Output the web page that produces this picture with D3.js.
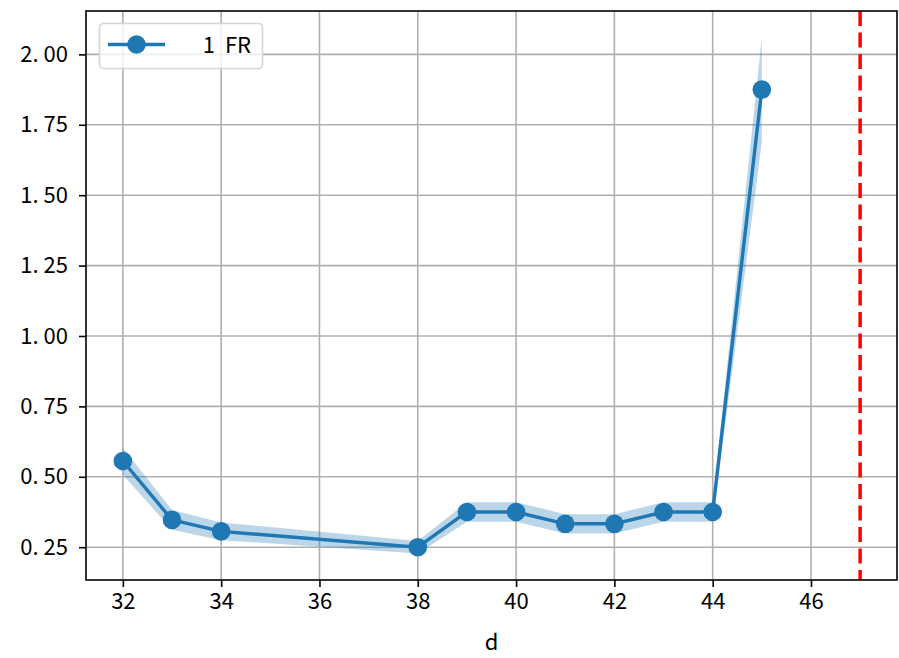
<!DOCTYPE html>
<html>
<head>
<meta charset="utf-8">
<script src="https://cdn.jsdelivr.net/npm/d3@7"></script>
<style>
  html, body { margin: 0; padding: 0; background: #fff; }
  svg { display: block; }
  text { font-family: "Noto Sans CJK JP", "Noto Sans", sans-serif; fill: #000; }
</style>
</head>
<body>
<svg id="chart" width="899" height="658"></svg>
<script>
// ---- data ----
const dValues = [32, 33, 34, 38, 39, 40, 41, 42, 43, 44, 45];
const frValues = [0.556, 0.347, 0.306, 0.25, 0.375, 0.375, 0.333, 0.333, 0.375, 0.375, 1.875];
const frLower = [0.507, 0.312, 0.275, 0.228, 0.340, 0.340, 0.299, 0.299, 0.340, 0.340, 1.69];
const frUpper = [0.603, 0.382, 0.338, 0.272, 0.410, 0.410, 0.367, 0.367, 0.410, 0.410, 2.06];
const xTicks = [32, 34, 36, 38, 40, 42, 44, 46];
const yTicks = [0.25, 0.50, 0.75, 1.00, 1.25, 1.50, 1.75, 2.00];
const thresholdD = 47;
const seriesLabel = "1 FR";
const xLabel = "d";

// ---- layout ----
const svg = d3.select("#chart");
const mL = 86, mR = 897, mT = 11, mB = 580;
const blue = "#1f77b4";
const fs = 22;

const x = d3.scaleLinear().domain([31.25, 47.75]).range([mL, mR]);
const y = d3.scaleLinear().domain([0.1335, 2.154]).range([mB, mT]);

// grid
const grid = svg.append("g");
grid.selectAll(".vg").data(xTicks).join("line")
  .attr("x1", d => x(d)).attr("x2", d => x(d))
  .attr("y1", mT).attr("y2", mB)
  .attr("stroke", "#b0b0b0").attr("stroke-width", 1.6);
grid.selectAll(".hg").data(yTicks).join("line")
  .attr("x1", mL).attr("x2", mR)
  .attr("y1", d => y(d)).attr("y2", d => y(d))
  .attr("stroke", "#b0b0b0").attr("stroke-width", 1.6);

// band
const idx = d3.range(dValues.length);
svg.append("path")
  .datum(idx)
  .attr("d", d3.area().x(i => x(dValues[i])).y0(i => y(frLower[i])).y1(i => y(frUpper[i])))
  .attr("fill", blue).attr("fill-opacity", 0.3);

// line
svg.append("path")
  .datum(idx)
  .attr("d", d3.line().x(i => x(dValues[i])).y(i => y(frValues[i])))
  .attr("fill", "none").attr("stroke", blue).attr("stroke-width", 3.4)
  .attr("stroke-linejoin", "round");

svg.selectAll(".pt").data(idx).join("circle")
  .attr("cx", i => x(dValues[i])).attr("cy", i => y(frValues[i]))
  .attr("r", 9.3).attr("fill", blue);

// threshold
svg.append("line")
  .attr("x1", x(thresholdD)).attr("x2", x(thresholdD))
  .attr("y1", mT).attr("y2", mB)
  .attr("stroke", "#ff0000").attr("stroke-width", 3.5)
  .attr("stroke-dasharray", "15,6.5");

// axes
const xAxis = d3.axisBottom(x).tickValues(xTicks).tickSize(7).tickPadding(6).tickFormat(d3.format("d"));
const gx = svg.append("g").attr("transform", `translate(0,${mB})`).call(xAxis);
const yAxis = d3.axisLeft(y).tickValues(yTicks).tickSize(7).tickPadding(11).tickFormat(d3.format(".2f"));
const gy = svg.append("g").attr("transform", `translate(${mL},0)`).call(yAxis);
[gx, gy].forEach(g => {
  g.select(".domain").remove();
  g.selectAll(".tick line").attr("stroke", "#000").attr("stroke-width", 1.6);
  g.selectAll(".tick text").attr("font-size", fs).attr("font-family", '"Noto Sans CJK JP", sans-serif').attr("fill", "#000");
});
// mimic wide period glyph
gy.selectAll(".tick text").each(function(d) {
  const s = d3.format(".2f")(d);
  const parts = s.split(".");
  const t = d3.select(this).text(null);
  t.append("tspan").text(parts[0]);
  t.append("tspan").text(".");
  t.append("tspan").attr("dx", 5).text(parts[1]);
});

// frame
svg.append("rect").attr("x", mL).attr("y", mT).attr("width", mR - mL).attr("height", mB - mT)
  .attr("fill", "none").attr("stroke", "#000").attr("stroke-width", 1.6);

// x label
svg.append("text").attr("x", (mL + mR) / 2).attr("y", 650)
  .attr("text-anchor", "middle").attr("font-size", fs).text(xLabel);

// legend
const lg = svg.append("g");
lg.append("rect").attr("x", 99.5).attr("y", 23.5).attr("width", 163).attr("height", 45).attr("rx", 4)
  .attr("fill", "#fff").attr("fill-opacity", 0.8).attr("stroke", "#d6d6d6").attr("stroke-width", 1.6);
lg.append("line").attr("x1", 108).attr("x2", 165).attr("y1", 44.5).attr("y2", 44.5)
  .attr("stroke", blue).attr("stroke-width", 3.4);
lg.append("circle").attr("cx", 136.5).attr("cy", 44.5).attr("r", 9.3).attr("fill", blue);
lg.append("text").attr("x", 251).attr("y", 52.5).attr("text-anchor", "end").attr("font-size", fs)
  .attr("xml:space", "preserve").text(seriesLabel.replace(" ", "  "));
</script>
</body>
</html>
